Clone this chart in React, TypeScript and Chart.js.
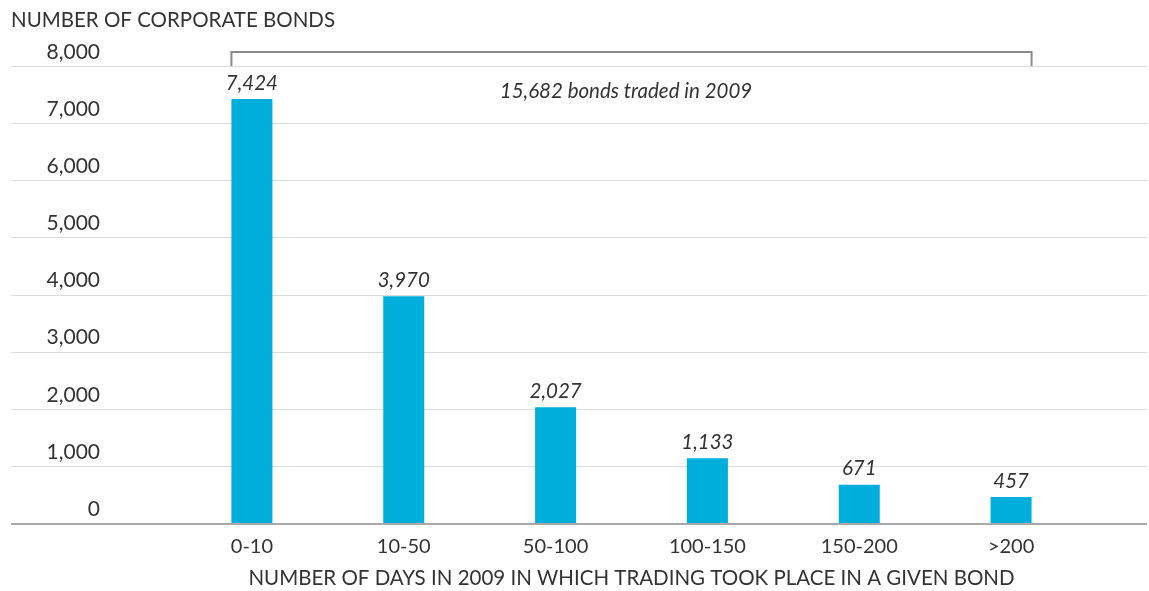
import React, { useEffect, useRef } from "react";
import { Chart, registerables } from "chart.js";

Chart.register(...registerables);

const categories = ["0-10", "10-50", "50-100", "100-150", "150-200", ">200"];
const bondCounts = [7424, 3970, 2027, 1133, 671, 457];
const yMin = 0;
const yMax = 8000;
const yStep = 1000;
const yAxisTitle = "NUMBER OF CORPORATE BONDS";
const xAxisTitle = "NUMBER OF DAYS IN 2009 IN WHICH TRADING TOOK PLACE IN A GIVEN BOND";
const bracketNote = "15,682 bonds traded in 2009";

const FONT = "Lato";
const TEXT = "#333333";
const BAR = "#00AEDB";

const fmt = (v: number) => v.toLocaleString("en-US");

const annotations = {
  id: "annotations",
  beforeDatasetsDraw(chart: any) {
    const { ctx, scales } = chart;
    const y = scales.y;
    ctx.save();
    y.ticks.forEach((t: any) => {
      const py = Math.round(y.getPixelForValue(t.value));
      if (t.value === 0) return;
      ctx.strokeStyle = "#dcdcdc";
      ctx.lineWidth = 1;
      ctx.beginPath();
      ctx.moveTo(11, py + 0.5);
      ctx.lineTo(1147, py + 0.5);
      ctx.stroke();
    });
    const p0 = y.getPixelForValue(0);
    ctx.strokeStyle = "#a8a8a8";
    ctx.lineWidth = 2;
    ctx.beginPath();
    ctx.moveTo(11, p0 + 1);
    ctx.lineTo(1147, p0 + 1);
    ctx.stroke();
    ctx.restore();
  },
  afterDatasetsDraw(chart: any) {
    const { ctx, scales } = chart;
    const y = scales.y;
    const meta = chart.getDatasetMeta(0);
    ctx.save();
    // value labels
    ctx.fillStyle = TEXT;
    ctx.font = `italic 20.5px ${FONT}`;
    ctx.textAlign = "center";
    ctx.textBaseline = "middle";
    meta.data.forEach((bar: any, i: number) => {
      ctx.fillText(fmt(bondCounts[i]), bar.x, bar.y - 16);
    });
    // bracket
    const first = meta.data[0];
    const last = meta.data[meta.data.length - 1];
    const bl = first.x - first.width / 2;
    const br = last.x + last.width / 2;
    const topY = y.getPixelForValue(yMax);
    const by = topY - 14;
    ctx.strokeStyle = "#8a8a8a";
    ctx.lineWidth = 2;
    ctx.beginPath();
    ctx.moveTo(bl, topY);
    ctx.lineTo(bl, by);
    ctx.lineTo(br, by);
    ctx.lineTo(br, topY);
    ctx.stroke();
    // note
    ctx.fillStyle = TEXT;
    ctx.font = `italic 20.5px ${FONT}`;
    ctx.textAlign = "center";
    ctx.fillText(bracketNote, 626, topY + 25);
    // y axis title
    ctx.font = `20.5px ${FONT}`;
    ctx.textAlign = "left";
    ctx.fillText(yAxisTitle, 11, 20);
    ctx.restore();
  },
};

export default function App() {
  const ref = useRef<HTMLCanvasElement>(null);
  useEffect(() => {
    if (!ref.current) return;
    const chart = new Chart(ref.current, {
      type: "bar",
      data: {
        labels: categories,
        datasets: [
          {
            data: bondCounts,
            backgroundColor: BAR,
            borderWidth: 0,
            categoryPercentage: 1,
            barPercentage: 0.27,
          },
        ],
      },
      options: {
        animation: false,
        responsive: true,
        maintainAspectRatio: false,
        layout: { padding: { top: 66, right: 62, left: 0, bottom: 0 } },
        plugins: { legend: { display: false }, tooltip: { enabled: false }, title: { display: false } },
        scales: {
          x: {
            offset: true,
            grid: { display: false, drawTicks: false },
            border: { display: false },
            ticks: { color: TEXT, font: { family: FONT, size: 20 }, padding: 12, maxRotation: 0 },
            title: {
              display: true,
              text: xAxisTitle,
              color: TEXT,
              font: { family: FONT, size: 20.5 },
              padding: { top: 0, bottom: 0 },
            },
            afterFit: (s: any) => {
              s.height = 68;
              s.paddingLeft = 0;
              s.paddingRight = 0;
            },
          },
          y: {
            min: yMin,
            max: yMax,
            grid: { display: false, drawTicks: false },
            border: { display: false },
            ticks: {
              stepSize: yStep,
              color: TEXT,
              font: { family: FONT, size: 21 },
              padding: 76,
              labelOffset: -14,
              callback: (v: any) => fmt(Number(v)),
            },
            afterFit: (s: any) => {
              s.width = 176;
              s.paddingTop = 0;
              s.paddingBottom = 0;
            },
          },
        },
      },
      plugins: [annotations],
    });
    return () => chart.destroy();
  }, []);
  return (
    <div style={{ position: "absolute", left: 0, top: 0, width: 1149, height: 591, background: "#fff" }}>
      <canvas ref={ref} />
    </div>
  );
}
